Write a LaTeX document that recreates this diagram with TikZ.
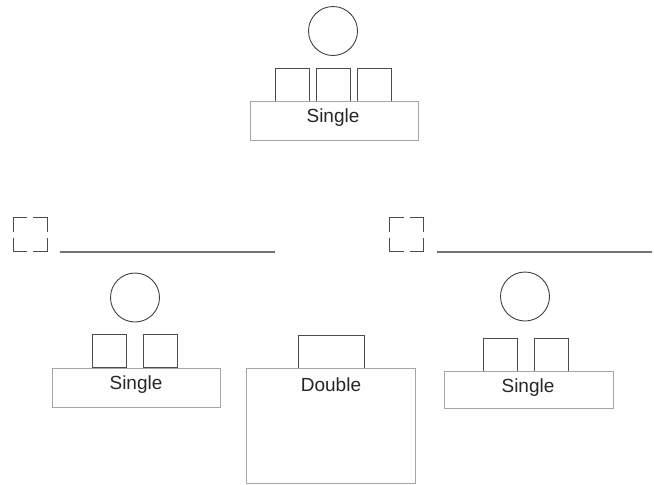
\documentclass[tikz,border=0pt]{standalone}
\usepackage{fontspec}
\setmainfont{Liberation Sans}
\begin{document}
\begin{tikzpicture}[x=1pt,y=-1pt,
  person/.style={draw=black!75,line width=0.9pt,circle,minimum size=49pt,inner sep=0pt},
  seat/.style={draw=black!70,line width=0.9pt,minimum width=34pt,minimum height=33pt,inner sep=0pt},
  table/.style={draw=black!35,line width=0.9pt,inner sep=0pt},
  lbl/.style={font=\fontsize{19}{22}\selectfont,text=black!85,inner sep=0pt},
  marker/.style={draw=black!70,line width=0.9pt,minimum width=34pt,minimum height=34pt,inner sep=0pt,
    dash pattern=on 14pt off 6pt on 14pt off 0pt},
  rule/.style={draw=black!55,line width=1.6pt}]
\useasboundingbox (0,0) rectangle (654,485);
% top group
\node[person] (p1) at (333,31) {};
\node[seat] (s1a) at (292,84.5) {};
\node[seat] (s1b) at (333.5,84.5) {};
\node[seat] (s1c) at (374.5,84.5) {};
\node[table,minimum width=168pt,minimum height=39pt] (t1) at (334,120.5) {};
\node[lbl] (l1) at (333,118) {Single};
% markers and rules
\node[marker] (m1) at (30,234.5) {};
\coordinate (r1a) at (60,252);
\coordinate (r1b) at (275,252);
\draw[rule] (r1a) -- (r1b);
\node[marker] (m2) at (406.5,234.5) {};
\coordinate (r2a) at (437,252);
\coordinate (r2b) at (652,252);
\draw[rule] (r2a) -- (r2b);
% left group
\node[person] (p2) at (135,297.5) {};
\node[seat] (s2a) at (109,351) {};
\node[seat] (s2b) at (160,351) {};
\node[table,minimum width=168pt,minimum height=39pt] (t2) at (136,387.5) {};
\node[lbl] (l2) at (136,385) {Single};
% middle
\node[seat,minimum width=66pt] (s3) at (331,351.5) {};
\node[table,minimum width=169pt,minimum height=115pt] (t3) at (330.5,425.5) {};
\node[lbl] (l3) at (331,385) {Double};
% right group
\node[person] (p4) at (525,296.5) {};
\node[seat] (s4a) at (500,354.5) {};
\node[seat] (s4b) at (551,354.5) {};
\node[table,minimum width=169pt,minimum height=37pt] (t4) at (528.5,389.5) {};
\node[lbl] (l4) at (528,388) {Single};
\end{tikzpicture}
\end{document}
